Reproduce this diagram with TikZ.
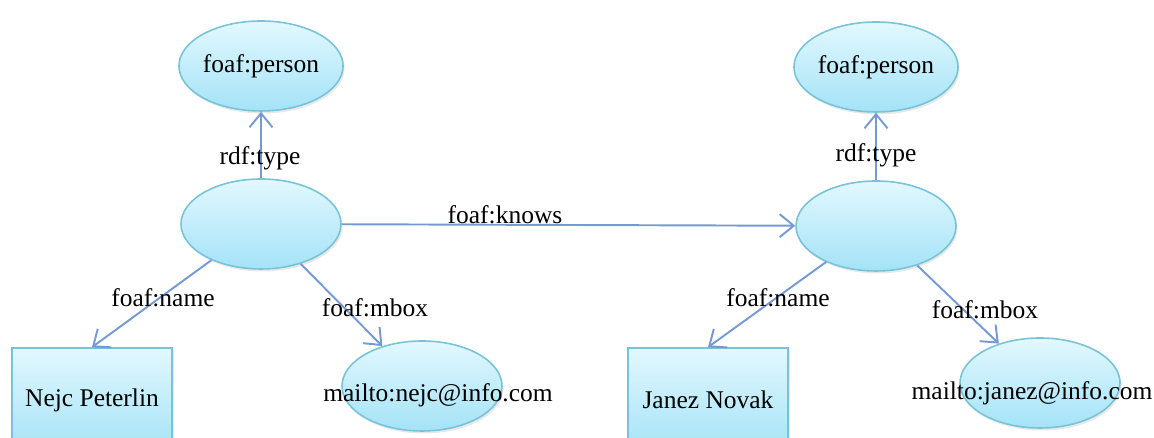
\documentclass[tikz,border=0pt]{standalone}
\usepackage{fontspec}
\setmainfont{Liberation Serif}
\usepackage{tikz}
\usetikzlibrary{shapes.geometric, arrows.meta, positioning, shadows}
\definecolor{rdfnodetop}{HTML}{E2F8FE}
\definecolor{rdfnodebottom}{HTML}{A4E3F7}
\definecolor{rdfnodeborder}{HTML}{78C3D8}
\definecolor{rdfedge}{HTML}{7599D2}

\begin{document}
\begin{tikzpicture}[
  res/.style={ellipse, draw=rdfnodeborder, line width=0.9pt, top color=rdfnodetop, bottom color=rdfnodebottom, drop shadow={shadow xshift=0.03cm, shadow yshift=-0.05cm, opacity=0.18}, minimum width=3.2cm, minimum height=1.8cm, inner sep=0pt, font=\fontsize{14.5}{17}\selectfont},
  lit/.style={rectangle, draw=rdfnodeborder, line width=0.9pt, top color=rdfnodetop, bottom color=rdfnodebottom, drop shadow={shadow xshift=0.03cm, shadow yshift=-0.05cm, opacity=0.18}, minimum width=3.2cm, minimum height=2.08cm, inner sep=0pt, font=\fontsize{14.5}{17}\selectfont},
  prop/.style={inner sep=0pt, font=\fontsize{14.5}{17}\selectfont},
  rel/.style={-{Straight Barb[length=2.8mm, width=4.6mm]}, rdfedge, line width=1.1pt}
]
\clip (0,0) rectangle (23.08,8.76);

\node[res] (p1) at (5.22,7.44) {foaf:person};
\node[res] (s1) at (5.22,4.28) {};
\node[lit] (n1) at (1.84,0.76) {Nejc Peterlin};
\node[res] (m1) at (8.44,1.04) {};
\node[prop] (m1t) at (8.76,0.86) {mailto:nejc@info.com};

\node[res] (p2) at (17.52,7.42) {foaf:person};
\node[res] (s2) at (17.52,4.24) {};
\node[lit] (n2) at (14.16,0.76) {Janez Novak};
\node[res] (m2) at (20.80,1.10) {};
\node[prop] (m2t) at (20.64,0.90) {mailto:janez@info.com};

\draw[rel] (s1) -- (p1);
\draw[rel] (s1) -- (n1.north);
\draw[rel] (s1) -- (m1);
\draw[rel] (s1) -- (s2);
\draw[rel] (s2) -- (p2);
\draw[rel] (s2) -- (n2.north);
\draw[rel] (s2) -- (m2);

\node[prop] (t1) at (5.20,5.60) {rdf:type};
\node[prop] (t2) at (17.52,5.66) {rdf:type};
\node[prop] (k1) at (10.10,4.46) {foaf:knows};
\node[prop] (a1) at (3.26,2.80) {foaf:name};
\node[prop] (a2) at (15.56,2.80) {foaf:name};
\node[prop] (b1) at (7.50,2.60) {foaf:mbox};
\node[prop] (b2) at (19.70,2.56) {foaf:mbox};
\end{tikzpicture}
\end{document}
